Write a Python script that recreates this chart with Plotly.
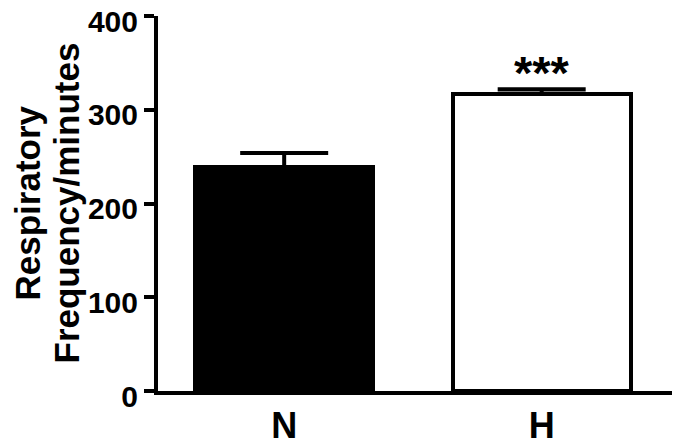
import plotly.graph_objects as go

groups = ["N", "H"]
means = [239, 317]
errors = [15, 5]
fills = ["black", "white"]
y_ticks = [0, 100, 200, 300, 400]
signif = "***"
title_lines = ["Respiratory", "Frequency/minutes"]

bold = dict(family="Liberation Sans", color="black", weight="bold")

# the page has an 8px body margin, so the figure is drawn 8px in from the top-left
W, H = 672, 438
L, R, T, B = 150, 7, 8, 55

fig = go.Figure()
fig.add_trace(go.Bar(
    x=groups, y=means, width=0.69,
    marker=dict(color=fills, line=dict(color="black", width=4)),
    error_y=dict(type="data", array=errors, arrayminus=[0, 0], symmetric=False,
                 color="black", thickness=4, width=44),
))

fig.add_annotation(x="H", y=means[1] + errors[1], text=signif, showarrow=False,
                   yanchor="bottom", yshift=-12,
                   font=dict(size=47, **bold))

# y axis title as two rotated lines
for line, px in zip(title_lines, [19, 58]):
    fig.add_annotation(x=(px - L) / (W - L - R), xref="paper", xanchor="center",
                       y=0.5, yref="paper", text=line, textangle=-90, showarrow=False,
                       font=dict(size=35, **bold))

fig.update_layout(
    width=W, height=H,
    margin=dict(l=L, r=R, t=T, b=B),
    plot_bgcolor="white", paper_bgcolor="white",
    showlegend=False,
    bargap=0,
)
fig.update_xaxes(range=[-0.49, 1.51], showline=True, linecolor="black", linewidth=4,
                 ticks="", showgrid=False, zeroline=False, automargin=False,
                 tickfont=dict(size=36, **bold))
fig.update_yaxes(range=[0, 400], tickvals=y_ticks, showline=True, linecolor="black", linewidth=4,
                 ticks="outside", ticklen=10, tickwidth=4, tickcolor="black",
                 showgrid=False, zeroline=False, automargin=False,
                 ticklabeloverflow="allow", ticklabelshift=5,
                 tickfont=dict(size=30, **bold))

fig.write_html("out.html")
